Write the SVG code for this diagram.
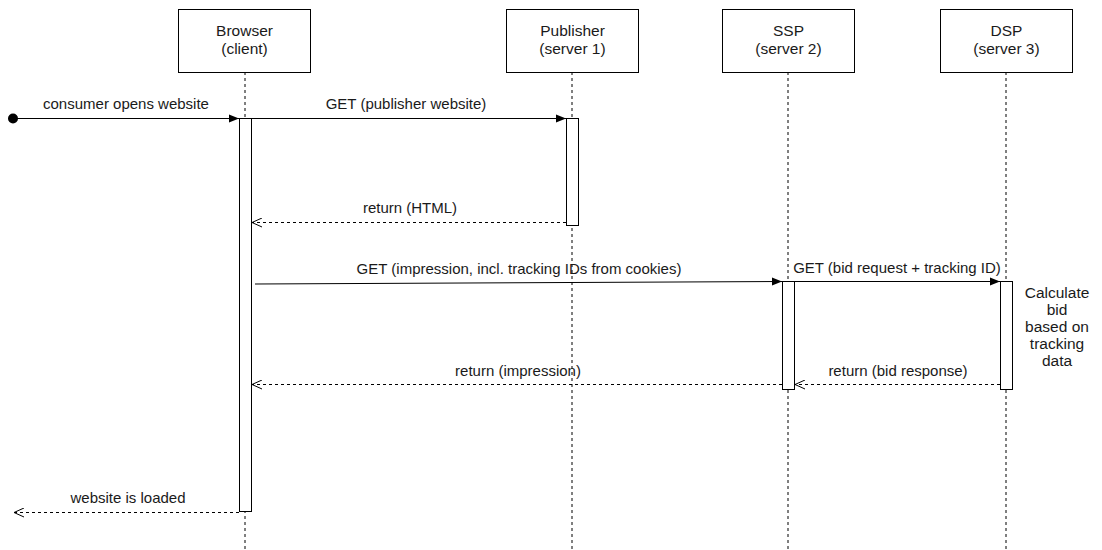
<svg xmlns="http://www.w3.org/2000/svg" width="1102" height="550" viewBox="0 0 1102 550">
<defs>
<style>
text{font-family:"Liberation Sans",Arial,sans-serif;fill:#1a1a1a}
.t{font-size:15.5px;text-anchor:middle}
.l{font-size:15px;text-anchor:middle}
.box{fill:#fff;stroke:#000;stroke-width:1}
.life{stroke:#000;stroke-width:1;stroke-dasharray:3 3;fill:none}
.act{fill:#fff;stroke:#000;stroke-width:1}
.msg{stroke:#000;stroke-width:1;fill:none}
.ret{stroke:#000;stroke-width:1;fill:none;stroke-dasharray:3 3}
</style>
<marker id="fa" viewBox="0 0 10 10" refX="10" refY="5" markerWidth="10" markerHeight="10" markerUnits="userSpaceOnUse" orient="auto"><path d="M0,1 L10,5 L0,9 Z" fill="#000"/></marker>
<marker id="oa" viewBox="0 0 10 10" refX="10" refY="5" markerWidth="10" markerHeight="10" markerUnits="userSpaceOnUse" orient="auto"><path d="M0,0.5 L10,5 L0,9.5" fill="none" stroke="#000" stroke-width="1"/></marker>
</defs>
<rect width="1102" height="550" fill="#fff"/>
<g id="browser">
<line class="life" x1="245" y1="72" x2="245" y2="550"/>
<rect class="box" x="178.5" y="9.5" width="132" height="63"/>
<text class="t" x="244.5" y="35.5">Browser</text>
<text class="t" x="244.5" y="54">(client)</text>
<rect class="act" x="239.5" y="118.5" width="12" height="393"/>
</g>
<g id="publisher">
<line class="life" x1="572" y1="72" x2="572" y2="550"/>
<rect class="box" x="506.5" y="9.5" width="132" height="63"/>
<text class="t" x="572.5" y="35.5">Publisher</text>
<text class="t" x="572.5" y="54">(server 1)</text>
<rect class="act" x="566.5" y="118.5" width="12" height="107"/>
</g>
<g id="ssp">
<line class="life" x1="788" y1="72" x2="788" y2="550"/>
<rect class="box" x="722.5" y="9.5" width="132" height="63"/>
<text class="t" x="788.5" y="35.5">SSP</text>
<text class="t" x="788.5" y="54">(server 2)</text>
<rect class="act" x="782.5" y="281.5" width="12" height="108"/>
</g>
<g id="dsp">
<line class="life" x1="1006" y1="72" x2="1006" y2="550"/>
<rect class="box" x="940.5" y="9.5" width="132" height="63"/>
<text class="t" x="1006.5" y="35.5">DSP</text>
<text class="t" x="1006.5" y="54">(server 3)</text>
<rect class="act" x="1000.5" y="281.5" width="12" height="108"/>
<text class="t" x="1057" y="297.5">Calculate</text>
<text class="t" x="1057" y="314.5">bid</text>
<text class="t" x="1057" y="331.5">based on</text>
<text class="t" x="1057" y="348.5">tracking</text>
<text class="t" x="1057" y="365.5">data</text>
</g>
<g id="connectors">
<circle cx="13" cy="118.5" r="5" fill="#000"/>
<line class="msg" x1="13" y1="118.5" x2="239" y2="118.5" marker-end="url(#fa)"/>
<text class="l" x="126" y="109">consumer opens website</text>
<line class="msg" x1="251" y1="118.5" x2="566" y2="118.5" marker-end="url(#fa)"/>
<text class="l" x="406" y="109">GET (publisher website)</text>
<line class="ret" x1="566" y1="222.5" x2="252" y2="222.5" marker-end="url(#oa)"/>
<text class="l" x="410" y="213">return (HTML)</text>
<line class="msg" x1="255" y1="284" x2="782" y2="281.5" marker-end="url(#fa)"/>
<text class="l" x="519" y="274">GET (impression, incl. tracking IDs from cookies)</text>
<line class="msg" x1="794" y1="281.5" x2="1000" y2="281.5" marker-end="url(#fa)"/>
<text class="l" x="897" y="273">GET (bid request + tracking ID)</text>
<line class="ret" x1="1000" y1="384.5" x2="795" y2="384.5" marker-end="url(#oa)"/>
<text class="l" x="898" y="376">return  (bid response)</text>
<line class="ret" x1="782" y1="384.5" x2="252" y2="384.5" marker-end="url(#oa)"/>
<text class="l" x="518" y="376">return (impression)</text>
<line class="ret" x1="239" y1="512.5" x2="14" y2="512.5" marker-end="url(#oa)"/>
<text class="l" x="128" y="503">website is loaded</text>
</g>
</svg>
